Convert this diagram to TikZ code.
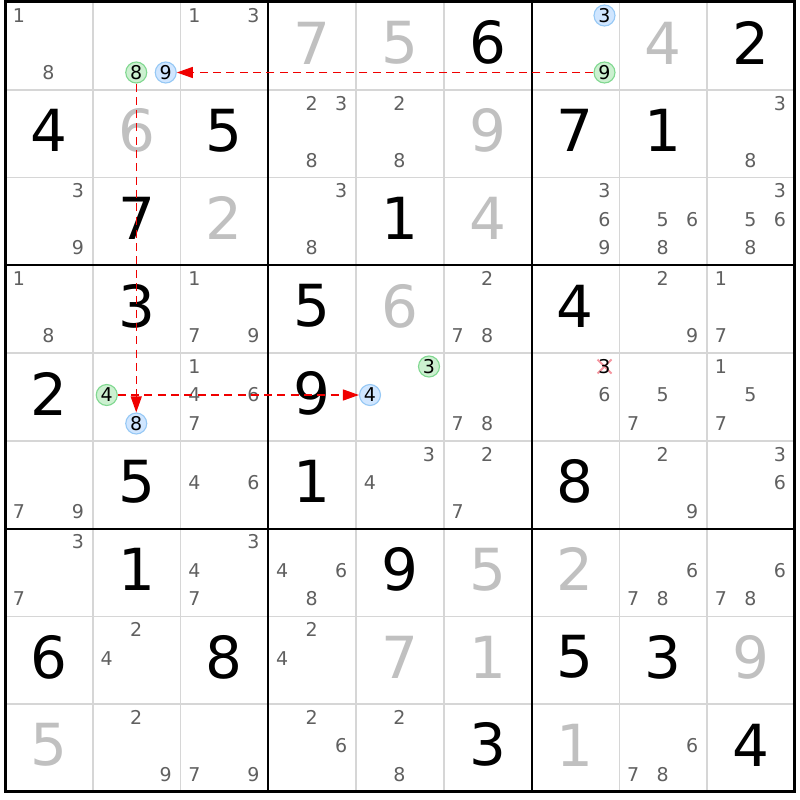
\documentclass[tikz,border=0pt]{standalone}
\usepackage{fontspec}
\setmainfont{DejaVu Sans}
\usetikzlibrary{arrows.meta}
\definecolor{candc}{RGB}{96,96,96}
\definecolor{solvc}{RGB}{192,192,192}
\definecolor{thinc}{RGB}{214,214,214}
\definecolor{gfill}{RGB}{204,240,208}
\definecolor{gdraw}{RGB}{128,216,144}
\definecolor{bfill}{RGB}{208,230,255}
\definecolor{bdraw}{RGB}{150,200,245}
\definecolor{linkc}{RGB}{240,0,0}
\definecolor{xc}{RGB}{245,150,160}
\begin{document}
\begin{tikzpicture}[x=1pt,y=-1pt,
  big/.style={inner sep=0pt,font=\fontsize{58}{58}\selectfont},
  cand/.style={inner sep=0pt,text=candc,font=\fontsize{19}{19}\selectfont},
  gcirc/.style={circle,draw=gdraw,fill=gfill,line width=1.1pt,minimum size=21pt,inner sep=0pt,text=black,font=\fontsize{19}{19}\selectfont},
  bcirc/.style={circle,draw=bdraw,fill=bfill,line width=1.1pt,minimum size=21pt,inner sep=0pt,text=black,font=\fontsize{19}{19}\selectfont},
  plain/.style={inner sep=0pt,text=black,font=\fontsize{19}{19}\selectfont},
  link/.style={draw=linkc,line width=1.3pt,dash pattern=on 8pt off 5.3pt,-{Triangle[length=16pt,width=11pt,fill=linkc]}}]
\useasboundingbox (0,0) rectangle (800,800);
\fill[white] (0,0) rectangle (800,800);
% thin lines
\foreach \i in {1,2,4,5,7,8}{
  \draw[thinc,line width=1.5pt] ({5+\i*87.75},2) -- ({5+\i*87.75},791.75);
  \draw[thinc,line width=1.5pt] (5,{2+\i*87.75}) -- (794.75,{2+\i*87.75});
}
\foreach \i in {3,6}{
  \draw[black,line width=2pt] ({5+\i*87.75},2) -- ({5+\i*87.75},791.75);
  \draw[black,line width=2pt] (5,{2+\i*87.75}) -- (794.75,{2+\i*87.75});
}
\draw[black,line width=3pt] (5,2) rectangle (794.75,791.75);
% big digits
\foreach \r/\c/\d/\t in {
  1/4/7/solvc,1/5/5/solvc,1/6/6/black,1/8/4/solvc,1/9/2/black,
  2/1/4/black,2/2/6/solvc,2/3/5/black,2/6/9/solvc,2/7/7/black,2/8/1/black,
  3/2/7/black,3/3/2/solvc,3/5/1/black,3/6/4/solvc,
  4/2/3/black,4/4/5/black,4/5/6/solvc,4/7/4/black,
  5/1/2/black,5/4/9/black,
  6/2/5/black,6/4/1/black,6/7/8/black,
  7/2/1/black,7/5/9/black,7/6/5/solvc,7/7/2/solvc,
  8/1/6/black,8/3/8/black,8/5/7/solvc,8/6/1/solvc,8/7/5/black,8/8/3/black,8/9/9/solvc,
  9/1/5/solvc,9/6/3/black,9/7/1/solvc,9/9/4/black}{
  \node[big,text=\t] (g\r\c) at ({5+(\c-0.5)*87.75},{2+(\r-0.5)*87.75-3}) {\d};
}
% candidates
\foreach \r/\c/\L in {
  1/1/{1,8},1/3/{1,3},
  2/4/{2,3,8},2/5/{2,8},2/9/{3,8},
  3/1/{3,9},3/4/{3,8},3/7/{3,6,9},3/8/{5,6,8},3/9/{3,5,6,8},
  4/1/{1,8},4/3/{1,7,9},4/6/{2,7,8},4/8/{2,9},4/9/{1,7},
  5/3/{1,4,6,7},5/6/{7,8},5/7/{6},5/8/{5,7},5/9/{1,5,7},
  6/1/{7,9},6/3/{4,6},6/5/{3,4},6/6/{2,7},6/8/{2,9},6/9/{3,6},
  7/1/{3,7},7/3/{3,4,7},7/4/{4,6,8},7/8/{6,7,8},7/9/{6,7,8},
  8/2/{2,4},8/4/{2,4},
  9/2/{2,9},9/3/{7,9},9/4/{2,6},9/5/{2,8},9/8/{6,7,8}}{
  \foreach \p in \L {
    \pgfmathsetmacro\cx{5+(\c-1)*87.75+14+mod(\p-1,3)*29.5}
    \pgfmathsetmacro\cy{2+(\r-1)*87.75+13.5+floor((\p-1)/3)*28.5}
    \node[cand] (k\r\c\p) at (\cx,\cy) {\p};
  }
}
% struck candidate
\draw[xc,line width=2pt] (597.5,359.5) -- (611.5,373.5);
\draw[xc,line width=2pt] (597.5,373.5) -- (611.5,359.5);
\node[plain] (k573) at (604.5,366.5) {3};
% highlighted candidates
\node[gcirc] (c128) at (136.25,72.5) {8};
\node[bcirc] (c129) at (165.75,72.5) {9};
\node[bcirc] (c173) at (604.5,15.5) {3};
\node[gcirc] (c179) at (604.5,72.5) {9};
\node[gcirc] (c524) at (106.75,395) {4};
\node[bcirc] (c528) at (136.25,423.5) {8};
\node[gcirc] (c553) at (429,366.5) {3};
\node[bcirc] (c554) at (370,395) {4};
% links
\draw[link] (c179) -- (c129);
\draw[link] (c128) -- (c528);
\draw[link] (c524) -- (c554);
\end{tikzpicture}
\end{document}
